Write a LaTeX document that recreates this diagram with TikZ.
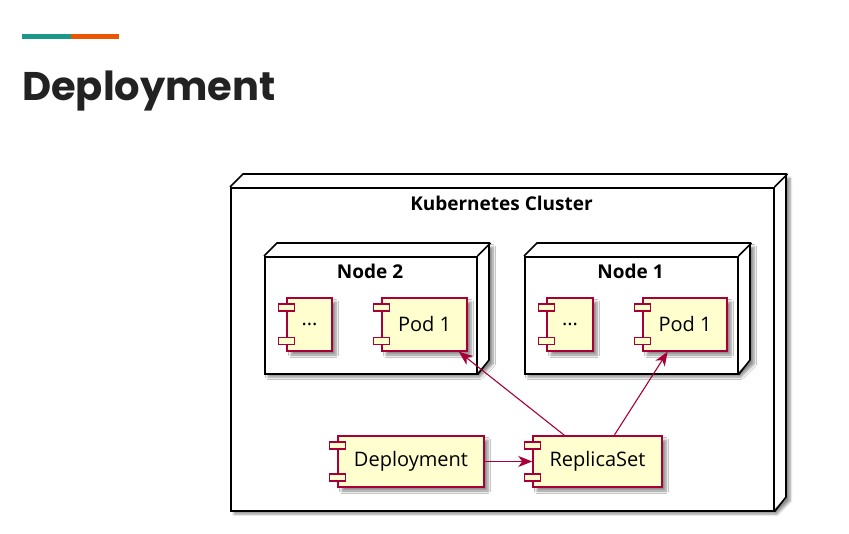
\documentclass[tikz,border=0pt]{standalone}
\usepackage{fontspec}
\setmainfont{Open Sans}
\newfontfamily\headfont{Poppins}
\usetikzlibrary{arrows.meta}
\usetikzlibrary{shadows.blur}
\definecolor{compfill}{HTML}{FEFECE}
\definecolor{compline}{HTML}{A80036}
\definecolor{barteal}{HTML}{1A9988}
\definecolor{barorange}{HTML}{EB5600}
\definecolor{titleink}{HTML}{222222}
\tikzset{boxline/.style={line width=1.6pt, line join=miter},
         boxshade/.style={fill=white, blur shadow={shadow xshift=4pt, shadow yshift=-4pt, shadow opacity=45, shadow blur steps=6, shadow blur radius=2.5pt}},
         boxtitle/.style={font=\bfseries\fontsize{19}{20}\selectfont, anchor=base, inner sep=0pt},
         comp/.style={draw=compline, fill=compfill, line width=1.5pt, minimum height=53pt, inner sep=0pt,
                      font=\fontsize{20}{22}\selectfont,
                      blur shadow={shadow xshift=4pt, shadow yshift=-4pt, shadow opacity=45, shadow blur steps=6, shadow blur radius=2.5pt}},
         comptab/.style={draw=compline, fill=compfill, line width=1.5pt},
         flow/.style={draw=compline, line width=1.1pt, -{Stealth[length=14pt,width=11pt,inset=4pt]}}}
% 3d box: name, left, top, right, bottom
\newcommand{\nodebox}[5]{%
  \path[boxshade] (#2,#3) -- ++(13,-13) -- (#4+13,#3-13) -- (#4+13,#5-13) -- (#4,#5) -- (#2,#5) -- cycle;
  \node[boxline, draw, fill=white, inner sep=0pt, anchor=north west,
        minimum width=#4-#2, minimum height=#5-#3] (#1) at (#2,#3) {};
  \draw[boxline] (#1.north west) -- ++(13,-13) -- ++(#4-#2,0) -- ++(0,#5-#3) -- (#1.south east);
  \draw[boxline] (#1.north east) -- ++(13,-13);}

\begin{document}
\begin{tikzpicture}[x=1pt, y=-1pt]
  \useasboundingbox (0,0) rectangle (849,534);
  % heading
  \fill[barteal] (22,34) rectangle (71,39);
  \fill[barorange] (71,34) rectangle (119,39);
  \node[anchor=base west, inner sep=0pt, text=titleink, font=\headfont\bfseries\fontsize{40}{44}\selectfont] (title) at (22,101) {Deployment};
  % cluster and nodes
  \nodebox{cluster}{230}{187}{773}{510}
  \node[boxtitle] (clustertitle) at (501.5,211) {Kubernetes Cluster};
  \nodebox{nodeB}{264}{256}{476}{373}
  \node[boxtitle] (nodeBtitle) at (370,279) {Node 2};
  \nodebox{nodeA}{524}{256}{737}{373}
  \node[boxtitle] (nodeAtitle) at (630.5,279) {Node 1};
  % components
  \node[comp, minimum width=45pt] (dotsB) at (309.5,324.5) {...};
  \node[comp, minimum width=85pt] (podB) at (424.5,324.5) {Pod 1};
  \node[comp, minimum width=46pt] (dotsA) at (570,324.5) {...};
  \node[comp, minimum width=84pt] (podA) at (685,324.5) {Pod 1};
  \node[comp, minimum width=146pt, minimum height=51pt] (deploy) at (411,461.5) {Deployment};
  \node[comp, minimum width=129pt, minimum height=51pt] (rs) at (597.5,461.5) {ReplicaSet};
  \foreach \c in {dotsB,podB,dotsA,podA,deploy,rs} {
    \draw[comptab] ([xshift=-8pt,yshift=-7pt]\c.north west) rectangle ++(16,7);
    \draw[comptab] ([xshift=-8pt,yshift=7pt]\c.south west) rectangle ++(16,-7);
  }
  % connectors
  \draw[flow] (deploy) -- (rs);
  \draw[flow] (rs) -- (podB);
  \draw[flow] (rs) -- (podA);
\end{tikzpicture}
\end{document}
